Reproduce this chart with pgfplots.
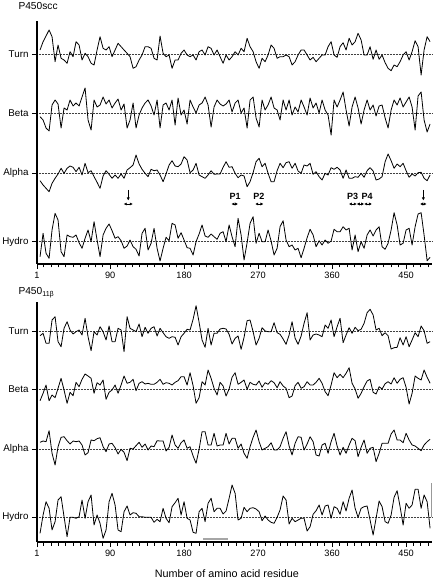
\documentclass[border=0pt]{standalone}
\usepackage{fontspec}
\setmainfont{Liberation Sans}
\usepackage{pgfplots}
\usepackage{pgfplotstable}
\pgfplotsset{compat=1.18}
\usetikzlibrary{arrows.meta}

% residue, then vertical position of Turn, Beta, Alpha, Hydro traces (P450scc)
\pgfplotstableread{
r T B A H
4.7 -50.0 -116.7 -180.7 -256.7
8.4 -41.7 -120 -185 -233.3
12.0 -36 -128 -188.3 -253.3
15.7 -30 -131 -191.7 -258.3
19.3 -36.7 -105 -183.3 -230
23.0 -61.7 -100 -178.3 -213.3
26.6 -45 -104 -174 -220
30.3 -58.3 -128 -168.3 -251.7
33.9 -60 -108 -173.3 -256.7
37.6 -63.3 -110 -168.3 -235
41.2 -51.7 -100 -166 -236.7
44.9 -56.7 -106 -167.3 -237.3
48.5 -41.7 -103 -171.7 -235
52.2 -45 -106 -167.3 -242.7
55.8 -60 -97 -175 -248.3
59.5 -53.3 -88 -163.3 -238.3
63.1 -56.7 -120 -172.7 -230
66.8 -63.3 -130 -170.7 -241.7
70.4 -65 -100 -176.7 -221.7
74.1 -50 -107 -182.3 -240
77.7 -36.7 -105 -188.3 -256.7
81.4 -48.3 -97 -176 -235
85.0 -50 -104 -170.7 -228.3
88.7 -46.7 -100 -174.3 -224
92.3 -56.7 -108 -178.3 -230.7
96.0 -50 -103 -175 -238.3
99.6 -43.3 -99 -178.3 -236.7
103.3 -46.7 -110 -174 -240.7
106.9 -50 -104 -178.3 -248.3
110.6 -53.3 -128 -170 -246
114.2 -56.7 -120 -167.7 -240
117.9 -68.3 -103 -165 -246.7
121.5 -66.7 -128 -155 -249.3
125.2 -60 -115 -164 -256
128.8 -55 -108 -169.3 -233.3
132.5 -46.7 -103 -173.3 -228.3
136.1 -46.7 -100 -176.7 -250
139.8 -48.3 -106 -169.3 -243.3
143.4 -58.3 -115 -170.7 -228.3
147.1 -60 -100 -170 -248.3
150.7 -36 -128 -175 -261
154.4 -53.3 -105 -181.7 -248.3
158.0 -56.7 -103 -174 -237.3
161.7 -55 -110 -165 -240.7
165.3 -68.3 -100 -160.7 -223.3
169.0 -60 -125 -166 -225
172.6 -60 -98 -166.7 -238.3
176.3 -53.3 -115 -164 -232.7
179.9 -50 -110 -156.7 -240
183.6 -55 -124 -160 -247.7
187.2 -56.7 -100 -172.7 -248.3
190.9 -55 -107 -170 -255
194.5 -60 -113 -163.3 -241.7
198.2 -51.7 -105 -175 -234
201.8 -50 -103 -176.7 -225
205.5 -55 -97 -178.3 -236
209.1 -46.7 -105 -175 -237.3
212.8 -48.3 -127 -170.7 -234
216.4 -55 -107 -174.3 -236.7
220.1 -50 -100 -174 -239.3
223.7 -56.7 -104 -174 -233.3
227.4 -63.3 -106 -167.3 -231.7
231.0 -55 -104 -161.7 -241.7
234.7 -60 -100 -167.3 -225
238.3 -56.7 -112 -166.7 -236.7
242.0 -51.7 -103 -173.3 -246.7
245.6 -55 -100 -177.7 -218.3
249.3 -48.3 -113 -175 -235
252.9 -51.7 -108 -176 -260
256.6 -38.3 -128 -186.7 -242.7
260.2 -46.7 -100 -181.7 -223.3
263.9 -51.7 -97 -172.7 -216.7
267.5 -61.7 -118 -161.7 -243.3
271.2 -68.3 -127 -158.3 -233.3
274.8 -58.3 -100 -166.7 -241.7
278.5 -61.7 -110 -163.3 -241.7
282.1 -55 -105 -173.3 -230
285.8 -45 -97 -181.7 -241
289.4 -48.3 -108 -181.7 -255
293.1 -58.3 -110 -170.7 -248.3
296.7 -56.7 -120 -163.3 -226.7
300.4 -56.7 -100 -167.7 -220.7
304.0 -55 -110 -162.7 -240
307.7 -56.7 -100 -161.7 -246.7
311.3 -65 -115 -168.3 -245
315.0 -61.7 -107 -163.3 -250
318.6 -55 -112 -171 -248.3
322.3 -50 -100 -173.3 -257.7
325.9 -50 -107 -165 -248.3
329.6 -55 -115 -166 -237.7
333.2 -60 -98 -163.3 -229.3
336.9 -57.3 -108 -174.3 -235
340.5 -61.7 -103 -171.7 -246.7
344.2 -58.3 -113 -176.7 -240.7
347.8 -55 -100 -180 -245
351.5 -55 -110 -173.3 -240
355.1 -46.7 -115 -175 -243.3
358.8 -41.7 -135 -167.7 -241
362.4 -55 -100 -169.3 -229.3
366.1 -57.3 -107 -167.3 -231.7
369.7 -46.7 -100 -170 -231.7
373.4 -42.7 -92 -178.3 -226.7
377.0 -50 -110 -170 -230
380.7 -38.3 -126 -178.3 -228.3
384.3 -45 -107 -178.3 -250
388.0 -41.7 -97 -176.7 -235
391.6 -33.3 -108 -177.3 -251.7
395.3 -40 -124 -173.3 -241.7
398.9 -55 -110 -177.3 -248.3
402.6 -55 -100 -170.7 -235
406.2 -46.7 -110 -167.7 -230
409.9 -59.3 -105 -171 -236
413.5 -50 -116 -180 -230
417.2 -59.3 -106 -179 -226.7
420.8 -55 -105 -176.7 -246.7
424.5 -62.7 -118 -161.7 -249.3
428.1 -68.3 -128 -154 -243.3
431.8 -70.7 -110 -160.7 -230
435.4 -65 -100 -168.3 -212.7
439.1 -66.7 -105 -164 -225
442.7 -61.7 -98 -166.7 -245
446.4 -55 -107 -163.3 -243.3
450.0 -51.7 -102 -170.7 -230
453.7 -60 -97 -177.3 -228.3
457.3 -51.7 -107 -174 -245
461.0 -40.7 -130 -176 -226.7
464.6 -46.7 -96 -172.7 -214
468.3 -75 -92 -172.3 -212.7
471.9 -50 -120 -178.3 -235
475.6 -36.7 -132 -180.7 -260.7
479.2 -41.7 -124 -175 -257.3
}\topdata

% residue, then vertical position of Turn, Beta, Alpha, Hydro traces (P450 11beta)
\pgfplotstableread{
r T B A H
4.7 -335.7 -400.7 -442.3 -533.3
8.4 -333.3 -393.3 -441 -515
12.0 -343.3 -385 -441.7 -501.7
15.7 -343.3 -400.7 -430.7 -508.3
19.3 -320 -395 -453.3 -530
23.0 -316.7 -397.7 -465 -521.7
26.6 -341.7 -388.3 -446.7 -500
30.3 -346.7 -378.3 -437.3 -496.7
33.9 -328.3 -390 -436.7 -516.7
37.6 -321.7 -403.3 -440.7 -536.7
41.2 -330 -392.3 -444 -517.3
44.9 -334 -395.7 -441 -517.3
48.5 -331.7 -382.3 -441.7 -518.3
52.2 -330 -386.7 -441 -516.7
55.8 -335 -379.3 -445 -500
59.5 -318.3 -374 -455 -518.3
63.1 -336.7 -376 -452.7 -501.7
66.8 -350.7 -378.3 -440 -495
70.4 -331.7 -393.3 -440.7 -525
74.1 -335 -382.7 -438.7 -515
77.7 -326.7 -385 -437.7 -523.3
81.4 -331.7 -380 -446.7 -538.3
85.0 -340 -399.3 -451.7 -530
88.7 -326 -392.3 -444 -501.7
92.3 -341.7 -390 -443.3 -493.3
96.0 -341.7 -385 -447.7 -505
99.6 -328.3 -393.3 -454 -530
103.3 -330 -385 -449.3 -531.7
106.9 -351.7 -376 -452.3 -511.7
110.6 -316.7 -383.3 -460.7 -506
114.2 -328.3 -382.3 -448.3 -515
117.9 -330 -379.3 -449 -512.7
121.5 -331.7 -390.7 -445.7 -513.3
125.2 -324 -383.3 -442.3 -516.7
128.8 -336.7 -381.7 -447.3 -516.7
132.5 -327.3 -384 -444 -517.3
136.1 -333.3 -383.3 -450 -517.3
139.8 -328.3 -384.3 -446 -517.3
143.4 -326.7 -384.3 -446.7 -522.3
147.1 -336 -382.3 -440.7 -519.3
150.7 -328.3 -379.3 -441 -521.7
154.4 -332.7 -384.3 -441 -508.3
158.0 -336.7 -382.7 -451 -518.3
161.7 -338.3 -383.3 -447.3 -522.7
165.3 -336.7 -385 -435 -506.7
169.0 -337.3 -382.3 -445 -502.7
172.6 -345 -380.7 -448.3 -498.3
176.3 -336.7 -376.7 -442.7 -515
179.9 -333.3 -376.7 -440 -501.7
183.6 -329.3 -385 -448.3 -518.3
187.2 -330 -372.7 -446.7 -520
190.9 -319.3 -385.7 -456 -532.3
194.5 -305.7 -403.3 -463.3 -533.3
198.2 -322.3 -397.7 -449.3 -511.7
201.8 -340 -381.7 -431.7 -508.3
205.5 -347.3 -385 -431.7 -521.7
209.1 -328.3 -370 -445 -503.3
212.8 -345 -378.3 -445 -498.3
216.4 -333.3 -388.3 -433.3 -511.7
220.1 -333.3 -395 -446 -508.3
223.7 -329 -382.3 -445 -508.3
227.4 -328.3 -386 -445 -514
231.0 -329 -396 -433.3 -511
234.7 -334.3 -389 -444 -498.3
238.3 -344 -377.3 -438.3 -485
242.0 -338.3 -372.7 -438.3 -493.3
245.6 -336 -384.3 -448.3 -520
249.3 -349.3 -382.3 -444 -518.3
252.9 -337.3 -380 -453.3 -507.3
256.6 -320.7 -389.3 -458.3 -511.7
260.2 -320 -382.3 -446.7 -508.3
263.9 -331.7 -384.3 -437.3 -507.7
267.5 -345 -385 -430 -509
271.2 -338.3 -381 -441.7 -511.7
274.8 -327.7 -387.3 -450 -520.7
278.5 -331 -382.7 -448.3 -516
282.1 -331.7 -384.3 -446.7 -520
285.8 -331.7 -380.7 -442.7 -522.3
289.4 -322.7 -382.7 -450 -523.3
293.1 -332.7 -387.7 -450 -517.3
296.7 -334.3 -381.7 -446.7 -510
300.4 -339 -386 -438.3 -496
304.0 -344.3 -388.3 -431.7 -500
307.7 -335 -397.7 -446 -524
311.3 -321.7 -396 -455 -518.3
315.0 -338.3 -385.7 -443.3 -521.7
318.6 -344.3 -382.3 -436.7 -520
322.3 -336 -388.3 -437.3 -518.3
325.9 -323.3 -386.7 -450 -518.3
329.6 -312.7 -381.7 -444 -531
333.2 -340 -385 -436.7 -526.7
336.9 -335 -385 -441.7 -514.3
340.5 -334 -382.3 -455 -510.7
344.2 -335 -378.3 -456 -505
347.8 -336.7 -383.3 -445 -515
351.5 -325 -391.7 -443.3 -506
355.1 -328.3 -395.7 -453.3 -505
358.8 -320 -385 -441.7 -518.3
362.4 -336.7 -372.7 -433.3 -506.7
366.1 -326.7 -377.7 -446 -508.3
369.7 -318.3 -374.3 -455 -514.3
373.4 -342.7 -377.7 -447.3 -501.7
377.0 -335 -373.3 -453.3 -511
380.7 -327.7 -367.7 -445 -498.3
384.3 -333.3 -383.3 -438.3 -490
388.0 -327.3 -389 -440.7 -508.3
391.6 -330.7 -398.3 -456.7 -517.3
395.3 -329.3 -393.3 -447.3 -508.3
398.9 -323.3 -386.7 -440 -506.7
402.6 -312.7 -381 -453.3 -506
406.2 -309.3 -379.3 -448.3 -520
409.9 -315 -392.3 -447.3 -535
413.5 -330 -394 -461.7 -518.3
417.2 -328.3 -386.7 -453.3 -501
420.8 -335.7 -389 -443.3 -506.7
424.5 -332.7 -383.7 -443.3 -521.7
428.1 -335.7 -381.7 -443.3 -523.3
431.8 -349 -384 -434 -515
435.4 -347.7 -377.7 -430 -497.3
439.1 -347.3 -383.3 -440 -490.7
442.7 -337.7 -379.3 -440 -506.7
446.4 -345 -377.7 -442.7 -525
450.0 -336.7 -387.3 -433.3 -503.3
453.7 -346.7 -404 -440 -508.3
457.3 -340 -393.3 -445 -505
461.0 -332.7 -376 -446 -489.3
464.6 -336.7 -378.3 -448.3 -489.3
468.3 -326 -380 -450.7 -508.3
471.9 -330.7 -370 -445 -495
475.6 -343.3 -377.3 -441.7 -501.7
479.2 -341.7 -383.3 -439.3 -528.3
}\botdata

\pgfplotsset{
  panel/.style={
    x=0.822pt, y=1pt,
    xmin=1, xmax=481.5,
    axis lines*=left,
    x axis line style={line width=1.2pt},
    y axis line style={line width=1.8pt},
    tick align=outside,
    xtick={1,90,180,270,360,450},
    minor xtick={9,18,...,477},
    major tick length=5pt,
    minor tick length=3.5pt,
    every tick/.style={black, line width=0.8pt},
    x tick label style={font=\fontsize{9.2}{11}\selectfont},
    y tick label style={font=\fontsize{9.8}{11}\selectfont},
    /pgf/number format/assume math mode=true,
    clip=false,
  },
  trace/.style={black, line width=0.8pt, line join=round},
  base/.style={black!75, densely dotted, line width=0.5pt},
}

\begin{document}
\begin{tikzpicture}
\useasboundingbox (-37pt,-319pt) rectangle (401pt,264pt);
% ---------- P450scc ----------
\begin{axis}[panel,
  at={(0pt,0pt)}, anchor=south west,
  ymin=-264, ymax=-21,
  ytick={-241.7,-173.3,-113.3,-54.3},
  yticklabels={Hydro,Alpha,Beta,Turn}]
\addplot[base] coordinates {(3,-54.3) (482.5,-54.3)};
\addplot[base] coordinates {(3,-113.3) (482.5,-113.3)};
\addplot[base] coordinates {(3,-173.3) (482.5,-173.3)};
\addplot[base] coordinates {(3,-241.7) (482.5,-241.7)};
\addplot[trace] table[x=r, y=T] {\topdata};
\addplot[trace] table[x=r, y=B] {\topdata};
\addplot[trace] table[x=r, y=A] {\topdata};
\addplot[trace] table[x=r, y=H] {\topdata};
\node[anchor=west, font=\fontsize{10.2}{12}\selectfont] at (axis cs:-25.8,-6) {P450scc};
% annotations
\begin{scope}[line width=0.8pt, >={Latex[length=3pt,width=3.2pt]}, font=\bfseries\fontsize{9}{10}\selectfont]
\draw[->] (axis cs:112,-190) -- (axis cs:112,-200.5);
\draw[<->] (axis cs:106.5,-204) -- (axis cs:117.5,-204);
\node at (axis cs:242,-196.5) {P1};
\draw[<->] (axis cs:237.5,-204) -- (axis cs:245.5,-204);
\node at (axis cs:271,-196.5) {P2};
\draw[<->] (axis cs:266.5,-204) -- (axis cs:276.5,-204);
\node at (axis cs:385,-196.5) {P3};
\node at (axis cs:402.5,-196.5) {P4};
\draw[<->] (axis cs:380.5,-204) -- (axis cs:390,-204);
\draw[<->] (axis cs:390,-204) -- (axis cs:399,-204);
\draw[<->] (axis cs:399,-204) -- (axis cs:408.5,-204);
\draw[->] (axis cs:471,-190) -- (axis cs:471,-200.5);
\draw[<->] (axis cs:467,-204) -- (axis cs:475,-204);
\end{scope}
\end{axis}
% ---------- P450 11beta ----------
\begin{axis}[panel,
  at={(0pt,-278pt)}, anchor=south west,
  ymin=-542, ymax=-301.7,
  ytick={-517.3,-449,-389.3,-331},
  yticklabels={Hydro,Alpha,Beta,Turn}]
\addplot[base] coordinates {(3,-331) (482.5,-331)};
\addplot[base] coordinates {(3,-389.3) (482.5,-389.3)};
\addplot[base] coordinates {(3,-449) (482.5,-449)};
\addplot[base] coordinates {(3,-517.3) (482.5,-517.3)};
\addplot[trace] table[x=r, y=T] {\botdata};
\addplot[trace] table[x=r, y=B] {\botdata};
\addplot[trace] table[x=r, y=A] {\botdata};
\addplot[trace] table[x=r, y=H] {\botdata};
\addplot[black!35, line width=2pt] coordinates {(203,-539.3) (233,-539.3)};
\addplot[black!40, line width=0.8pt] coordinates {(480.5,-483) (480.5,-517)};
\node[anchor=west, font=\fontsize{10.2}{12}\selectfont] at (axis cs:-25.8,-293) {P450\textsubscript{11β}};
\node[font=\fontsize{10.8}{12}\selectfont] at (axis cs:232,-574) {Number of amino acid residue};
\end{axis}
\end{tikzpicture}
\end{document}
